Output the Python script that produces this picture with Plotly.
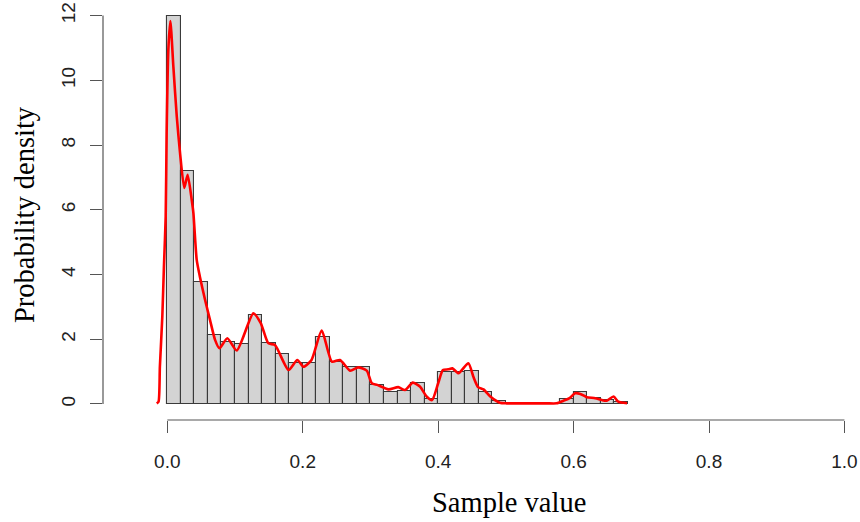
import plotly.graph_objects as go

# histogram: bins of width 0.02 from 0 to 0.68 (density scale)
bin_width = 0.02
bin_starts = [round(i * bin_width, 2) for i in range(34)]
bin_density = [
    12.0, 7.2, 3.78, 2.12, 1.93, 1.85, 2.75, 1.88, 1.54, 1.26,
    1.26, 2.08, 1.29, 1.13, 1.13, 0.59, 0.38, 0.41, 0.64, 0.15,
    0.99, 1.0, 1.02, 0.36, 0.08, 0.0, 0.0, 0.0, 0.0, 0.15,
    0.36, 0.17, 0.12, 0.05,
]

# kernel density curve
dens_x = [
    -0.0157, -0.013, -0.011, -0.0074, -0.005, -0.0024, -0.001, 0.0015, 0.0045,
    0.0089, 0.0139, 0.0188, 0.025, 0.030, 0.036, 0.0385, 0.0434, 0.048, 0.0557,
    0.063, 0.0705, 0.0769, 0.0886, 0.1025, 0.127, 0.138, 0.149, 0.159, 0.179,
    0.192, 0.201, 0.213, 0.228, 0.243, 0.255, 0.27, 0.282, 0.2945, 0.302,
    0.31, 0.3265, 0.341, 0.351, 0.3625, 0.373, 0.383, 0.391, 0.40, 0.407,
    0.415, 0.421, 0.43, 0.4446, 0.452, 0.459, 0.467, 0.477, 0.491, 0.501,
    0.52, 0.54, 0.56, 0.575, 0.585, 0.594, 0.602, 0.61, 0.6195, 0.632,
    0.642, 0.649, 0.659, 0.666, 0.679,
]
dens_y = [
    0.02, 0.07, 1.15, 2.7, 4.25, 5.8, 8.37, 10.95, 11.83,
    10.43, 8.89, 7.75, 6.67, 7.08, 6.31, 5.9, 4.45, 3.94, 3.22,
    2.6, 1.98, 1.72, 2.03, 1.65, 2.8, 2.5, 1.88, 1.82, 1.05,
    1.36, 1.15, 1.36, 2.27, 1.31, 1.36, 1.03, 1.13, 1.03, 0.64,
    0.59, 0.45, 0.52, 0.43, 0.66, 0.54, 0.23, 0.12, 0.64, 1.05,
    1.07, 1.10, 0.95, 1.26, 0.84, 0.52, 0.45, 0.23, 0.04, 0.02,
    0.02, 0.02, 0.02, 0.02, 0.1, 0.18, 0.33, 0.31, 0.21, 0.18,
    0.12, 0.10, 0.23, 0.07, 0.02,
]

x_ticks = [0.0, 0.2, 0.4, 0.6, 0.8, 1.0]
y_ticks = [0, 2, 4, 6, 8, 10, 12]

axis_col = "#555555"
text_col = "#222222"

fig = go.Figure()

fig.add_trace(go.Bar(
    x=[s + bin_width / 2 for s in bin_starts],
    y=bin_density,
    width=bin_width,
    marker=dict(color="#d3d3d3", line=dict(color="#3a3a3a", width=1.1)),
    showlegend=False,
))

fig.add_trace(go.Scatter(
    x=dens_x, y=dens_y,
    mode="lines",
    line=dict(color="#ff0000", width=2.6, shape="spline", smoothing=0.6),
    showlegend=False,
))

# R-style axis lines that only run between first and last tick
fig.add_shape(type="line", xref="x", yref="paper",
              x0=x_ticks[0], x1=x_ticks[-1], y0=0, y1=0,
              line=dict(color=axis_col, width=1.2))
fig.add_shape(type="line", xref="paper", yref="y",
              x0=0, x1=0, y0=y_ticks[0], y1=y_ticks[-1],
              line=dict(color=axis_col, width=1.2))

fig.update_layout(
    width=860, height=522,
    margin=dict(l=103, r=0, t=0, b=102),
    plot_bgcolor="white", paper_bgcolor="white",
    bargap=0,
    xaxis=dict(
        range=[-0.095, 1.023],
        tickvals=x_ticks, ticktext=[f"{v:.1f}" for v in x_ticks],
        ticks="outside", ticklen=12, tickcolor=axis_col, tickwidth=1.2,
        ticklabelstandoff=12,
        showgrid=False, zeroline=False, showline=False,
        tickfont=dict(family="Liberation Sans, Arial", size=19, color=text_col),
    ),
    yaxis=dict(
        range=[-0.495, 12.48],
        tickvals=y_ticks,
        ticks="outside", ticklen=12, tickcolor=axis_col, tickwidth=1.2,
        tickangle=-90, ticklabelstandoff=7,
        showgrid=False, zeroline=False, showline=False,
        tickfont=dict(family="Liberation Sans, Arial", size=19, color=text_col),
    ),
    annotations=[
        dict(text="Sample value", xref="paper", yref="paper",
             x=(509 - 103) / 757, y=-(502 - 420) / 420,
             xanchor="center", yanchor="middle", showarrow=False,
             font=dict(family="Liberation Serif, Times New Roman", size=28.5, color="black")),
        dict(text="Probability density", xref="paper", yref="paper",
             x=-(103 - 25) / 757, y=(420 - 215) / 420, textangle=-90,
             xanchor="center", yanchor="middle", showarrow=False,
             font=dict(family="Liberation Serif, Times New Roman", size=28.5, color="black")),
    ],
)

fig.write_html("out.html", config={"displayModeBar": False},
               post_script="document.body.style.margin='0';")
